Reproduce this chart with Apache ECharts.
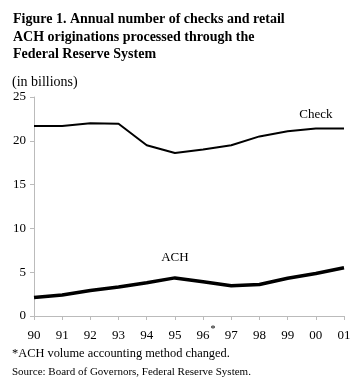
<!DOCTYPE html>
<html><head><meta charset="utf-8">
<script src="https://cdn.jsdelivr.net/npm/echarts@6/dist/echarts.min.js"></script>
<style>html,body{margin:0;padding:0;background:#fff}#c{width:360px;height:390px}</style>
</head><body><div id="c"></div>
<script>
var years = ["90","91","92","93","94","95","96*","97","98","99","00","01"];
var checkValues = [21.7, 21.7, 22.0, 21.95, 19.5, 18.6, 19.0, 19.5, 20.5, 21.1, 21.4, 21.4];
var achValues = [2.1, 2.4, 2.9, 3.3, 3.8, 4.35, 3.9, 3.45, 3.6, 4.3, 4.85, 5.5];
var yTicks = [0, 5, 10, 15, 20, 25];

var F = '"Liberation Serif", "Times New Roman", serif';
var chart = echarts.init(document.getElementById('c'), null, {renderer:'canvas'});
chart.setOption({
  animation: false,
  backgroundColor: '#fff',
  title: {
    text: 'Figure 1. Annual number of checks and retail\nACH originations processed through the\nFederal Reserve System',
    left: 13, top: 11, padding: 0,
    textStyle: {fontFamily: F, fontWeight: 'bold', fontSize: 14, lineHeight: 17.5, color: '#000'}
  },
  grid: {left: 34, right: 16, top: 97, bottom: 74, containLabel: false},
  xAxis: {
    type: 'category', data: years, boundaryGap: false,
    axisLine: {lineStyle: {color: '#bbb', width: 1}},
    axisTick: {show: true, length: 4, lineStyle: {color: '#bbb'}},
    axisLabel: {
      margin: 13, color: '#000', fontFamily: F, fontSize: 13, interval: 0,
      formatter: function (v) { return v.replace('*', ''); }
    },
    splitLine: {show: false}
  },
  yAxis: {
    type: 'value', min: yTicks[0], max: yTicks[yTicks.length-1], interval: 5,
    axisLine: {show: true, lineStyle: {color: '#bbb', width: 1}},
    axisTick: {show: true, length: 4, lineStyle: {color: '#bbb'}},
    axisLabel: {margin: 8, color: '#000', fontFamily: F, fontSize: 13},
    splitLine: {show: false}
  },
  series: [
    {name: 'Check', type: 'line', data: checkValues, symbol: 'none',
     lineStyle: {color: '#000', width: 2}},
    {name: 'ACH', type: 'line', data: achValues, symbol: 'none',
     lineStyle: {color: '#000', width: 3.5}}
  ]
});
var p1 = chart.convertToPixel({gridIndex:0}, [9.85, 23.0]);
var p2 = chart.convertToPixel({gridIndex:0}, [5.3, 6.7]);
var starIdx = years.findIndex(function (y) { return y.indexOf('*') >= 0; });
var p3 = chart.convertToPixel({gridIndex:0}, [starIdx, 0]);
chart.setOption({graphic: [
    {type:'text', left: 12, top: 75, style:{text:'(in billions)', font:'14px ' + F, fill:'#000'}},
    {type:'text', left: 12, top: 348, style:{text:'*ACH volume accounting method changed.', font:'12.4px ' + F, fill:'#000'}},
    {type:'text', left: 12, top: 367, style:{text:'Source: Board of Governors, Federal Reserve System.', font:'11px ' + F, fill:'#000'}},
    {type:'text', x: p1[0], y: p1[1], style:{text:'Check', font:'13px ' + F, fill:'#000', align:'center', verticalAlign:'middle'}},
    {type:'text', x: p2[0], y: p2[1], style:{text:'ACH', font:'13px ' + F, fill:'#000', align:'center', verticalAlign:'middle'}},
    {type:'text', x: p3[0] + 10, y: p3[1] + 13, style:{text:'*', font:'10px ' + F, fill:'#000', align:'center', verticalAlign:'middle'}}
]});
</script></body></html>
